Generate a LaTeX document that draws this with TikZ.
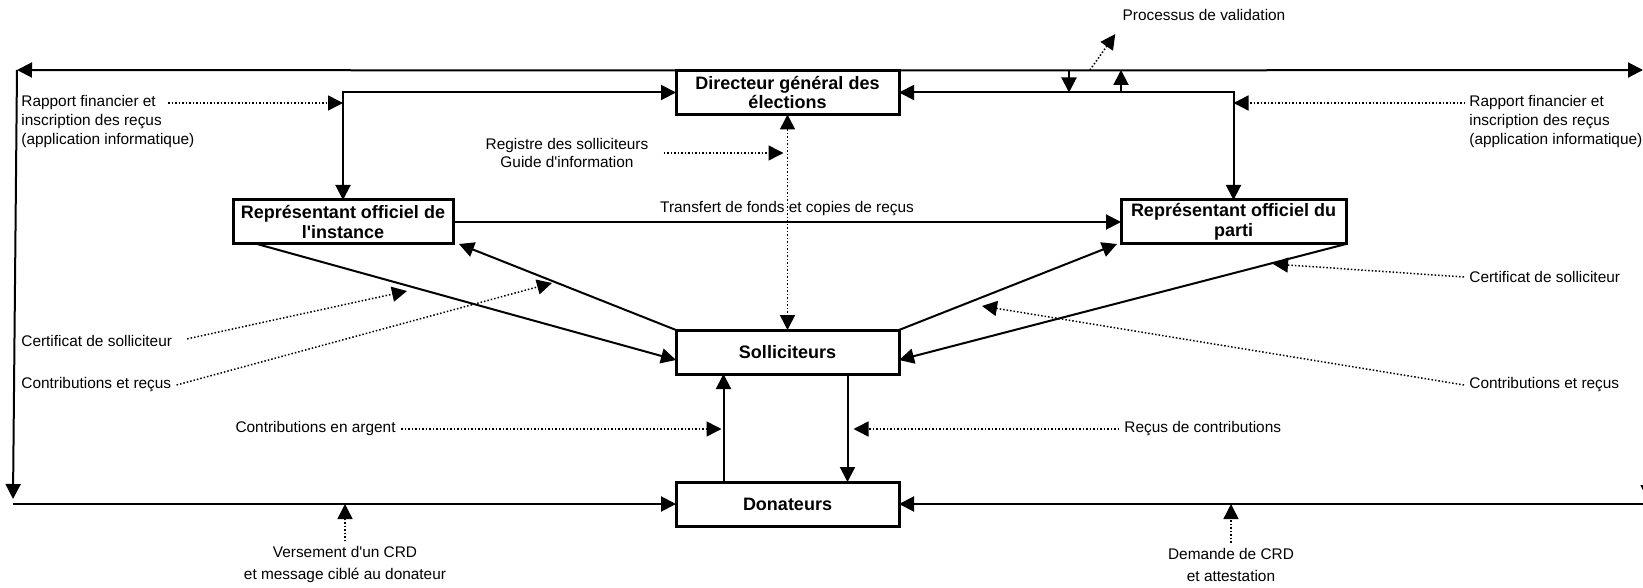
\documentclass[tikz,border=0pt]{standalone}
\usepackage{fontspec}
\setmainfont{Liberation Sans}
\usepackage{tikz}
\usetikzlibrary{arrows.meta, positioning}

\begin{document}
\begin{tikzpicture}[
  x=50pt, y=-50pt,
  >={Triangle[length=7.5pt, width=7.5pt]},
  font=\fontsize{7.7}{9.3}\selectfont,
  box/.style={rectangle, draw=black, line width=1.5pt, fill=white, outer sep=0pt,
    minimum height=22pt, inner sep=1pt, align=center,
    font=\fontsize{9}{9.8}\selectfont\bfseries},
  flow/.style={->, line width=1pt},
  twoway/.style={<->, line width=1pt},
  note/.style={->, densely dotted, line width=0.75pt},
  lbl/.style={inner sep=2.5pt},
]
\useasboundingbox (0,0) rectangle (16.43,5.88);
\clip (0,0) rectangle (16.43,5.88);

% === Boxes ===
\node[box, minimum width=111.5pt] (dge) at (7.875,0.925) {Directeur général des\\élections};
\node[box, minimum width=110pt] (rinst) at (3.43,2.22) {Représentant officiel de\\l\textquotesingle instance};
\node[box, minimum width=112.5pt] (rparti) at (12.335,2.22) {Représentant officiel du\\parti};
\node[box, minimum width=111.5pt] (soll) at (7.875,3.52) {Solliciteurs};
\node[box, minimum width=111.5pt] (don) at (7.875,5.04) {Donateurs};

% === Outer loop ===
\coordinate (tl) at (0.17,0.70);
\coordinate (tr) at (16.48,0.70);
\coordinate (bl) at (0.13,5.04);
\coordinate (br) at (16.48,5.04);
\draw[flow] (dge.north west) -- (tl);
\draw[flow] (dge.north east) -- ([xshift=-2.5pt]tr);
\draw[flow] (tl) -- ([yshift=2.5pt]bl);
\draw[flow] (tr) -- ([yshift=2pt]br);
\draw[flow] (bl) -- (don.west);
\draw[flow] (br) -- (don.east);

% === Links to the Directeur ===
\draw[twoway] (rinst.north) |- (dge.west);
\draw[twoway] (rparti.north) |- (dge.east);
\coordinate (vdown) at (10.69,0.70);
\coordinate (vup) at (11.21,0.70);
\draw[flow] (vdown) -- (vdown |- dge.east);
\draw[flow] (vup |- dge.east) -- (vup);
\node[lbl] (valid) at (12.04,0.15) {Processus de validation};
\coordinate (vdot) at (10.90,0.70);
\draw[note] (vdot) -- ([shift={(-1pt,-4pt)}]valid.south west);

\node[lbl, align=left, anchor=west] (rapg) at (0.16,1.215)
  {Rapport financier et\\inscription des reçus\\(application informatique)};
\coordinate (rapg-out) at (1.68,1.03);
\draw[note] (rapg-out) -- (rapg-out -| rinst.north);
\node[lbl, align=left, anchor=west] (rapd) at (14.64,1.215)
  {Rapport financier et\\inscription des reçus\\(application informatique)};
\coordinate (rapd-out) at (14.65,1.03);
\draw[note] (rapd-out) -- (rapd-out -| rparti.north);

\draw[note, <->] (dge.south) -- (soll.north);
\node[lbl, align=center] (registre) at (5.67,1.53)
  {Registre des solliciteurs\\Guide d\textquotesingle information};
\draw[note, shorten <=5pt, shorten >=2pt] (registre.east) -- (registre.east -| dge.south);

% === Representants ===
\draw[flow] (rinst.east) -- node[lbl, above] (transfert) {Transfert de fonds et copies de reçus} (rparti.west);
\draw[flow] ([xshift=12pt]rinst.south west) -- ([yshift=-4pt]soll.west);
\draw[flow] (soll.north west) -- ([xshift=3pt]rinst.south east);
\draw[flow] (soll.north east) -- ([xshift=-2pt]rparti.south west);
\draw[flow] (rparti.south east) -- ([yshift=-4pt]soll.east);

\node[lbl, anchor=west] (certg) at (0.16,3.41) {Certificat de solliciteur};
\coordinate (certg-in) at (4.07,2.91);
\draw[note, shorten <=5pt] (certg.east) -- (certg-in);
\node[lbl, anchor=west] (contg) at (0.16,3.85) {Contributions et reçus};
\coordinate (contg-in) at (5.52,2.83);
\draw[note] (contg.east) -- (contg-in);
\node[lbl, anchor=west] (certd) at (14.64,2.77) {Certificat de solliciteur};
\coordinate (certd-in) at (12.73,2.64);
\draw[note] (certd.west) -- (certd-in);
\node[lbl, anchor=west] (contd) at (14.64,3.85) {Contributions et reçus};
\coordinate (contd-in) at (9.82,3.06);
\draw[note] (contd.west) -- (contd-in);

% === Solliciteurs / Donateurs ===
\coordinate (cup) at ([xshift=-32pt]don.north);
\coordinate (cdown) at ([xshift=30pt]don.north);
\draw[flow] (cup) -- (cup |- soll.south);
\draw[flow] (cdown |- soll.south) -- (cdown);
\node[lbl, anchor=east] (argent) at (4.01,4.29) {Contributions en argent};
\draw[note, shorten >=1pt] (argent.east) -- (argent.east -| cup);
\node[lbl, anchor=west] (recus) at (11.19,4.29) {Reçus de contributions};
\draw[note, shorten >=3pt] (recus.west) -- (recus.west -| cdown);

% === Bottom notes ===
\node[lbl, align=center] (versement) at (3.45,5.65)
  {Versement d\textquotesingle un CRD\\[1.7pt]et message ciblé au donateur};
\draw[note] (versement.north) -- (versement.north |- don.west);
\node[lbl, align=center] (demande) at (12.31,5.65)
  {Demande de CRD\\[1.7pt]et attestation};
\draw[note] (demande.north) -- (demande.north |- don.east);

\end{tikzpicture}
\end{document}
